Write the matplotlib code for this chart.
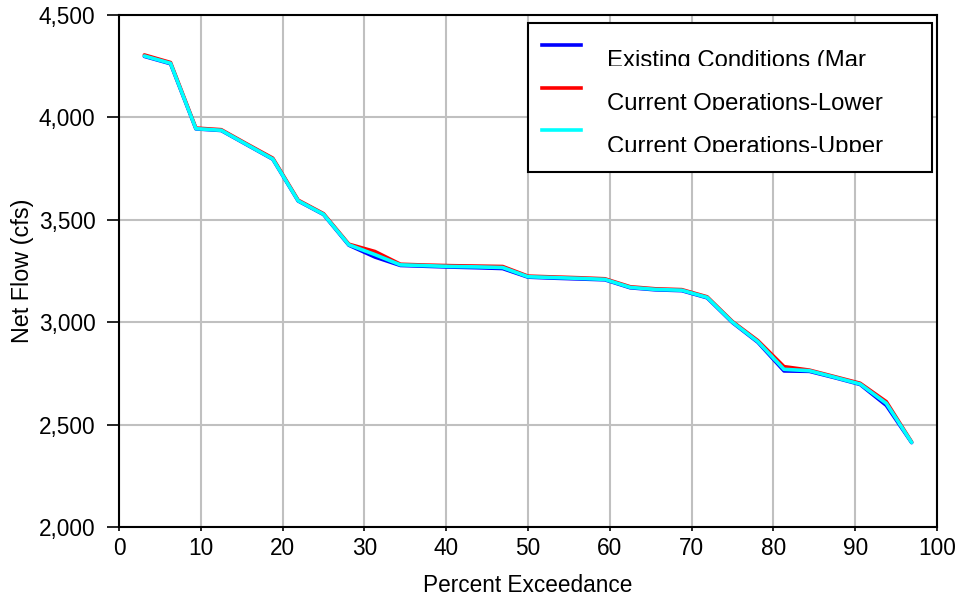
import matplotlib
matplotlib.use("Agg")
import matplotlib.pyplot as plt
from matplotlib.lines import Line2D
from matplotlib.patches import Rectangle
from matplotlib.ticker import FuncFormatter, MultipleLocator
from matplotlib.transforms import Bbox, TransformedBbox

plt.rcParams["font.family"] = ["Liberation Sans", "DejaVu Sans"]

# Percent exceedance of each ranked flow
exceedance = [3.1, 6.3, 9.4, 12.5, 15.6, 18.8, 21.9, 25.0, 28.1, 31.3, 34.4,
              37.5, 40.6, 43.8, 46.9, 50.0, 53.1, 56.3, 59.4, 62.5, 65.6,
              68.8, 71.9, 75.0, 78.1, 81.3, 84.4, 87.5, 90.6, 93.8, 96.9]

# Net flow (cfs) for each scenario
existing = [4298, 4262, 3944, 3936, 3867, 3796, 3592, 3526, 3376, 3318, 3277,
            3273, 3269, 3266, 3262, 3220, 3215, 3211, 3207, 3168, 3158,
            3154, 3119, 2998, 2902, 2762, 2760, 2729, 2696, 2594, 2412]
lower = [4305, 4268, 3948, 3940, 3871, 3801, 3596, 3530, 3381, 3345, 3283,
         3279, 3276, 3274, 3272, 3225, 3221, 3217, 3212, 3173, 3163,
         3159, 3124, 3003, 2910, 2783, 2766, 2734, 2702, 2612, 2415]
upper = [4300, 4264, 3945, 3937, 3868, 3797, 3593, 3527, 3378, 3330, 3280,
         3276, 3272, 3270, 3267, 3222, 3218, 3214, 3209, 3170, 3160,
         3156, 3121, 3000, 2905, 2770, 2763, 2731, 2698, 2604, 2413]

labels = ["Existing Conditions (Mar",
          "Current Operations-Lower",
          "Current Operations-Upper"]
colors = ["#0000ff", "#ff0000", "#00ffff"]

fig = plt.figure(figsize=(9.55, 6.01), dpi=100)
ax = fig.add_axes([119 / 955, 1 - 527 / 601, 818 / 955, 512 / 601])

for series, color in zip([existing, lower, upper], colors):
    ax.plot(exceedance, series, color=color, lw=2.6, solid_capstyle="round",
            solid_joinstyle="round", zorder=3)

ax.set_xlim(0, 100)
ax.set_ylim(2000, 4500)
ax.xaxis.set_major_locator(MultipleLocator(10))
ax.yaxis.set_major_locator(MultipleLocator(500))
ax.yaxis.set_major_formatter(FuncFormatter(lambda v, p: f"{int(v):,}"))

ax.grid(True, color="#c0c0c0", lw=1.5)
ax.set_axisbelow(True)
for sp in ax.spines.values():
    sp.set_color("black")
    sp.set_linewidth(1.5)

ax.tick_params(axis="y", direction="out", length=9, width=1.2, pad=8,
               labelsize=16.3, colors="black")
ax.tick_params(axis="x", direction="out", length=3, width=1.2, pad=4,
               labelsize=16.3, colors="black")

ax.set_xlabel("Percent Exceedance", fontsize=16.3, va="center")
ax.xaxis.set_label_coords(0.5, -0.114)
ax.set_ylabel("Net Flow (cfs)", fontsize=16.8, va="center")
ax.yaxis.set_label_coords(-0.1174, 0.5)

# Boxed key in the upper right corner
ax.add_patch(Rectangle((0.5, 0.6934), 0.4939, 0.2906, transform=ax.transAxes,
                       facecolor="white", edgecolor="black", lw=1.5,
                       zorder=5))
row_y = [0.941, 0.857, 0.775]
base_y = [0.9004, 0.8154, 0.7324]
for label, color, ly, by in zip(labels, colors, row_y, base_y):
    ax.add_line(Line2D([0.517, 0.565], [ly, ly], color=color, lw=2.6,
                       transform=ax.transAxes, zorder=6))
    t = ax.text(0.5966, by - 0.001, label, transform=ax.transAxes,
                fontsize=17.2, va="baseline", ha="left", zorder=6)
    clip = TransformedBbox(Bbox.from_extents(0.5, by, 0.99, by + 0.07),
                           ax.transAxes)
    t.set_clip_box(clip)
    t.set_clip_on(True)

fig.savefig("out.png", dpi=100)
